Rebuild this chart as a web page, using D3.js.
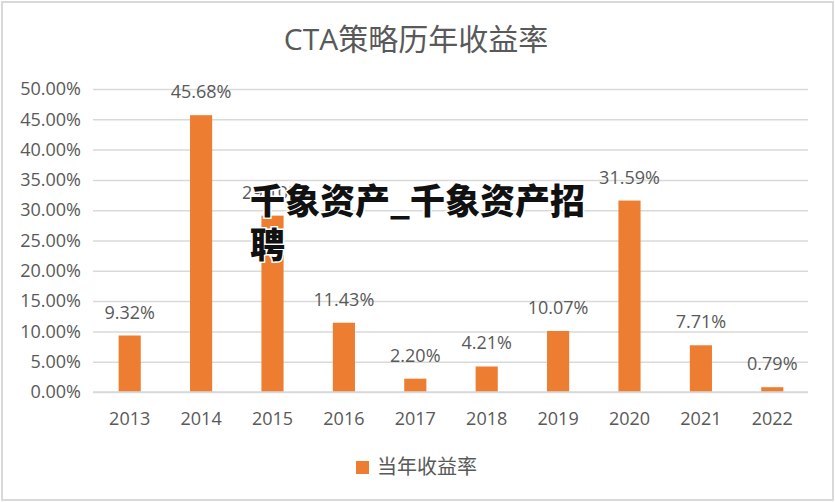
<!DOCTYPE html>
<html>
<head>
<meta charset="utf-8">
<script src="https://cdn.jsdelivr.net/npm/d3@7"></script>
<style>
  body { margin: 0; background: #fff; }
  text { font-family: "Open Sans", "Noto Sans CJK SC", sans-serif; }
</style>
</head>
<body>
<svg id="chart" width="835" height="502"></svg>
<script>
// chart data
const years = ['2013', '2014', '2015', '2016', '2017', '2018', '2019', '2020', '2021', '2022'];
const returns = [9.32, 45.68, 29.10, 11.43, 2.20, 4.21, 10.07, 31.59, 7.71, 0.79];
const yTicks = [0, 5, 10, 15, 20, 25, 30, 35, 40, 45, 50];
const title = 'CTA策略历年收益率';
const seriesName = '当年收益率';
const overlayLines = ['千象资产_千象资产招', '聘'];

const svg = d3.select('#chart');
const orange = '#ed7d31';
const grey = '#595959';

// outer frame
svg.append('rect')
  .attr('x', 2).attr('y', 2)
  .attr('width', 831).attr('height', 498)
  .attr('fill', '#fff')
  .attr('stroke', '#d9d9d9')
  .attr('stroke-width', 2);

const x = d3.scaleBand()
  .domain(years)
  .range([94, 808])
  .paddingInner(0.69)
  .paddingOuter(0.345);

const y = d3.scaleLinear()
  .domain([0, 50])
  .range([392, 89]);

// title
svg.append('text')
  .attr('x', 416)
  .attr('y', 50)
  .attr('text-anchor', 'middle')
  .attr('fill', grey)
  .style('font-size', '30px')
  .text(title);

// gridlines + y labels
const yAxis = d3.axisLeft(y)
  .tickValues(yTicks)
  .tickSize(-(808 - 93))
  .tickPadding(12)
  .tickFormat(d => `${d.toFixed(2)}%`);

const gy = svg.append('g')
  .attr('transform', 'translate(93,0)')
  .call(yAxis);
gy.select('.domain').remove();
gy.selectAll('.tick line')
  .attr('stroke', '#d9d9d9')
  .attr('stroke-width', 1.5);
gy.selectAll('.tick text')
  .attr('fill', grey)
  .style('font-size', '18px');

// bars
svg.selectAll('rect.bar')
  .data(returns)
  .enter()
  .append('rect')
  .classed('bar', true)
  .attr('x', (d, i) => x(years[i]))
  .attr('y', d => y(d))
  .attr('width', x.bandwidth())
  .attr('height', d => y(0) - y(d))
  .attr('fill', orange);

// value labels
svg.selectAll('text.val')
  .data(returns)
  .enter()
  .append('text')
  .classed('val', true)
  .attr('x', (d, i) => x(years[i]) + x.bandwidth() / 2)
  .attr('y', d => y(d) - 17)
  .attr('text-anchor', 'middle')
  .attr('fill', grey)
  .style('font-size', '18px')
  .text(d => `${d.toFixed(2)}%`);

// x axis
const gx = svg.append('g')
  .attr('transform', 'translate(0,392)')
  .call(d3.axisBottom(x).tickSize(0).tickPadding(20));
gx.select('.domain')
  .attr('stroke', '#d9d9d9')
  .attr('stroke-width', 1.5)
  .attr('d', 'M93,0H808');
gx.selectAll('.tick text')
  .attr('fill', grey)
  .style('font-size', '18px');

// legend
const legend = svg.append('g').attr('transform', 'translate(356,461)');
legend.append('rect')
  .attr('width', 13).attr('height', 13)
  .attr('fill', orange);
legend.append('text')
  .attr('x', 21)
  .attr('y', 13)
  .attr('fill', grey)
  .style('font-size', '20px')
  .text(seriesName);

// overlaid watermark text
const over = svg.append('g');
overlayLines.forEach((line, i) => {
  over.append('text')
    .attr('x', 250)
    .attr('y', 214 + i * 44)
    .attr('fill', '#111')
    .attr('stroke', '#fff')
    .attr('stroke-width', 3)
    .attr('paint-order', 'stroke')
    .style('font-family', '"Noto Sans CJK SC", sans-serif')
    .style('font-weight', 900)
    .style('font-size', '35px')
    .text(line);
});
</script>
</body>
</html>
